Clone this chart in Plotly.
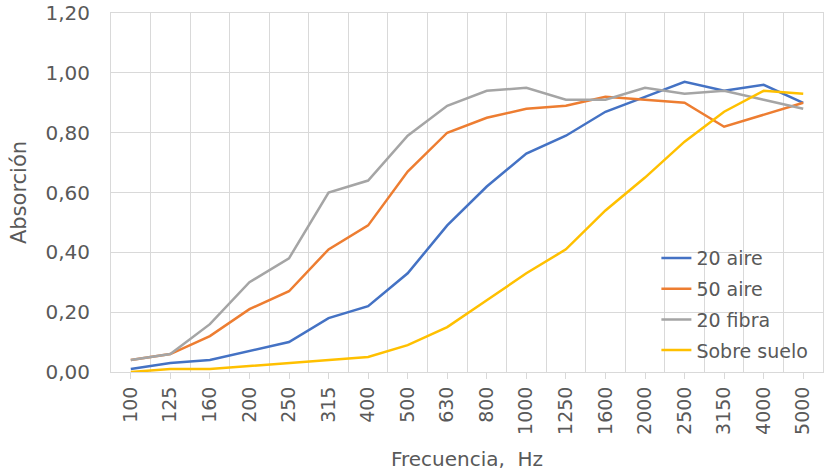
import plotly.graph_objects as go

frecuencias = ["100", "125", "160", "200", "250", "315", "400", "500", "630", "800",
               "1000", "1250", "1600", "2000", "2500", "3150", "4000", "5000"]

aire_20 = [0.01, 0.03, 0.04, 0.07, 0.10, 0.18, 0.22, 0.33, 0.49, 0.62,
           0.73, 0.79, 0.87, 0.92, 0.97, 0.94, 0.96, 0.90]
aire_50 = [0.04, 0.06, 0.12, 0.21, 0.27, 0.41, 0.49, 0.67, 0.80, 0.85,
           0.88, 0.89, 0.92, 0.91, 0.90, 0.82, 0.86, 0.90]
fibra_20 = [0.04, 0.06, 0.16, 0.30, 0.38, 0.60, 0.64, 0.79, 0.89, 0.94,
            0.95, 0.91, 0.91, 0.95, 0.93, 0.94, 0.91, 0.88]
sobre_suelo = [0.00, 0.01, 0.01, 0.02, 0.03, 0.04, 0.05, 0.09, 0.15, 0.24,
               0.33, 0.41, 0.54, 0.65, 0.77, 0.87, 0.94, 0.93]

y_ticks = [0.0, 0.2, 0.4, 0.6, 0.8, 1.0, 1.2]

nombres = ["20 aire", "50 aire", "20 fibra", "Sobre suelo"]
colores = ["#4472C4", "#ED7D31", "#A5A5A5", "#FFC000"]
series = [aire_20, aire_50, fibra_20, sobre_suelo]

x_idx = list(range(len(frecuencias)))

FONT = "DejaVu Sans, sans-serif"
TXT = "#595959"
GRID = "#D9D9D9"

fig = go.Figure()
for i, (nombre, color, valores) in enumerate(zip(nombres, colores, series)):
    fig.add_trace(go.Scatter(
        x=x_idx, y=valores, mode="lines", name=nombre,
        legendgroup=f"g{i}",
        line=dict(color=color, width=2.5),
        hoverinfo="x+y+name",
    ))

fig.update_layout(
    width=824, height=473,
    margin=dict(l=111, r=1, t=13, b=101),
    paper_bgcolor="white", plot_bgcolor="white",
    separators=",.",
    font=dict(family=FONT, color=TXT, size=19),
    showlegend=True,
    legend=dict(
        x=0.766, y=0.37, xanchor="left", yanchor="top",
        bgcolor="rgba(0,0,0,0)", borderwidth=0,
        font=dict(family=FONT, size=19, color=TXT),
        tracegroupgap=3,
    ),
    xaxis=dict(
        range=[-0.5, len(frecuencias) - 0.5],
        tickmode="array", tickvals=x_idx, ticktext=frecuencias,
        tickangle=-90,
        showgrid=False, zeroline=False,
        ticks="outside", ticklen=6, tickcolor=GRID, tickwidth=1,
        showline=True, mirror=True, linecolor=GRID, linewidth=1,
        tickfont=dict(family=FONT, size=19, color=TXT),
        minor=dict(tickmode="linear", tick0=0.5, dtick=1, showgrid=True,
                   gridcolor=GRID, gridwidth=1, ticks=""),
        title=dict(text="Frecuencia,  Hz", standoff=18,
                   font=dict(family=FONT, size=20, color=TXT)),
        automargin=False,
    ),
    yaxis=dict(
        range=[0, 1.2002], tickmode="array", tickvals=y_ticks,
        tickformat=".2f",
        showgrid=True, gridcolor=GRID, gridwidth=1,
        zeroline=False,
        showline=True, mirror=True, linecolor=GRID, linewidth=1,
        ticks="", ticklabelstandoff=16, ticklabeloverflow="allow",
        tickfont=dict(family=FONT, size=20, color=TXT),
        title=dict(text="Absorción", standoff=13,
                   font=dict(family=FONT, size=21, color=TXT)),
        automargin=False,
    ),
)

fig.write_html("out.html", config={"displayModeBar": False},
               post_script="document.body.style.margin='0';")
